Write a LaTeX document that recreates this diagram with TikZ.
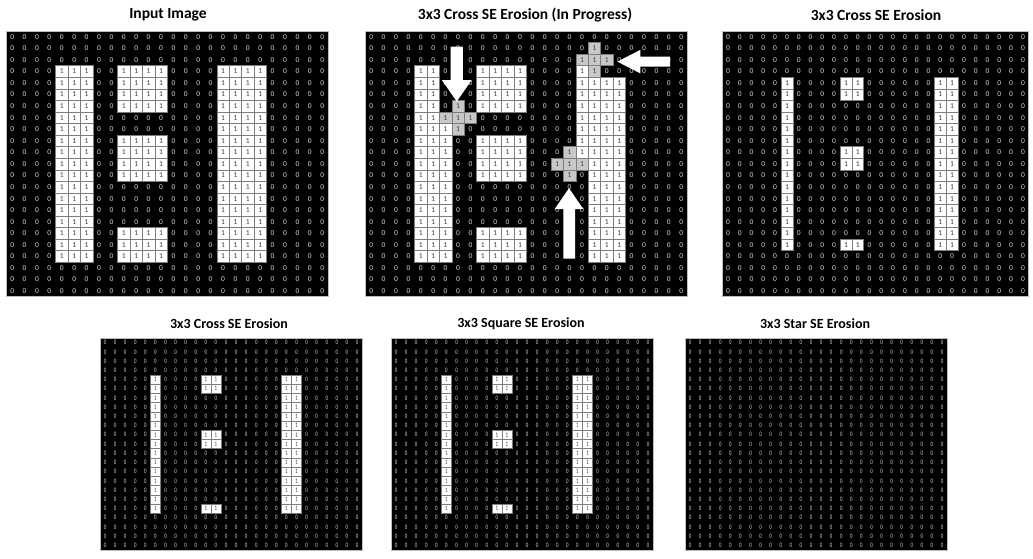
\documentclass[tikz,border=0pt]{standalone}
\usepackage{fontspec}
\setmainfont{Carlito}
\newfontfamily\cellfont{Carlito}
\newfontfamily\narrowfont[FakeStretch=0.72]{Carlito}
\definecolor{zerotxt}{RGB}{215,215,215}
\definecolor{onetxt}{RGB}{60,60,60}
\definecolor{segray}{RGB}{200,200,200}
\definecolor{cellln}{RGB}{125,125,125}
\definecolor{frameln}{RGB}{190,190,190}
\tikzset{zero/.style={inner sep=0pt, outer sep=0pt, text=zerotxt, font=\gf\fontsize{\fs}{\fs}\selectfont}}
\tikzset{one/.style={inner sep=0pt, outer sep=0pt, fill=white, draw=cellln, line width=0.4pt, minimum width=\cw pt, minimum height=\ch pt, text=onetxt, font=\gf\fontsize{\fs}{\fs}\selectfont}}
\tikzset{secell/.style={one, fill=segray}}
\tikzset{frame/.style={draw=frameln, line width=0.8pt}}
\tikzset{ttl/.style={font=\fontsize{15.5}{15.5}\selectfont\bfseries}}
\tikzset{sttl/.style={font=\fontsize{14}{14}\selectfont\bfseries}}
\begin{document}
\begin{tikzpicture}[x=1pt,y=-1pt]
\useasboundingbox[fill=white] (0,0) rectangle (1033,559);
\node[ttl] (t-in) at (168,15) {Input Image};
\node[ttl] (t-pr) at (525,15) {3x3 Cross SE Erosion (In Progress)};
\node[ttl] (t-cr) at (876,15) {3x3 Cross SE Erosion};
\node[sttl] (t-cb) at (229,324) {3x3 Cross SE Erosion};
\node[sttl] (t-sq) at (521,324) {3x3 Square SE Erosion};
\node[sttl] (t-st) at (815,324) {3x3 Star SE Erosion};
\foreach \p/\px/\py/\cw/\ch/\fs/\gf in {in/6/31/12.4/11.56/7.5/\cellfont,pr/365/31/12.4/11.56/7.5/\cellfont,cr/722/31/11.8/11.56/7.5/\cellfont,cb/100/338/10.08/9.22/6.8/\narrowfont,sq/391/338/10.08/9.22/6.8/\narrowfont,st/685/338/10.08/9.22/6.8/\narrowfont}{
\begin{scope}[shift={(\px pt,-\py pt)},x=\cw pt,y=-\ch pt]
\fill (0,0) rectangle (26,23);
\foreach \c in {0,...,25}
\foreach \r in {0,...,22}
{\node[zero] (\p-\c-\r) at (\c+.5,\r+.5) {0};}
\draw[frame] (0,0) rectangle (26,23);
\end{scope}
}
\begin{scope}[shift={(6pt,-31pt)},x=12.4pt,y=-11.56pt]
\def\cw{12.4}\def\ch{11.56}\def\fs{7.5}\def\gf{\cellfont}
\foreach \ca/\cb/\ra/\rb in {4/6/3/19,9/12/3/6,9/12/9/12,9/12/17/19,17/20/3/19}
\foreach \c in {\ca,...,\cb}
\foreach \r in {\ra,...,\rb}
{\node[one] (in-\c-\r) at (\c+.5,\r+.5) {1};}
\end{scope}
\begin{scope}[shift={(365pt,-31pt)},x=12.4pt,y=-11.56pt]
\def\cw{12.4}\def\ch{11.56}\def\fs{7.5}\def\gf{\cellfont}
\foreach \ca/\cb/\ra/\rb in {4/5/3/19,6/6/8/19,9/12/3/6,9/12/9/12,9/12/17/19,17/17/3/10,18/20/4/19}
\foreach \c in {\ca,...,\cb}
\foreach \r in {\ra,...,\rb}
{\node[one] (pr-\c-\r) at (\c+.5,\r+.5) {1};}
\foreach \c/\r in {7/6,6/7,7/7,8/7,7/8,18/1,17/2,18/2,19/2,18/3,16/10,15/11,16/11,17/11,16/12}
{\node[secell] (pr-\c-\r) at (\c+.5,\r+.5) {1};}
\fill[white] (6.9,1.36) -- (7.9,1.36) -- (7.9,4.24) -- (8.6,4.24) -- (7.4,6.1) -- (6.2,4.24) -- (6.9,4.24) -- cycle;
\fill[white] (24.6,2.22) -- (24.6,3.09) -- (22.2,3.09) -- (22.2,3.66) -- (20.35,2.65) -- (22.2,1.64) -- (22.2,2.22) -- cycle;
\fill[white] (16,19.7) -- (16.95,19.7) -- (16.95,15.4) -- (17.6,15.4) -- (16.45,13.6) -- (15.3,15.4) -- (16,15.4) -- cycle;
\end{scope}
\foreach \p/\px/\py/\cw/\ch/\fs/\gf in {cr/722/31/11.8/11.56/7.5/\cellfont,cb/100/338/10.08/9.22/6.8/\narrowfont,sq/391/338/10.08/9.22/6.8/\narrowfont}{
\begin{scope}[shift={(\px pt,-\py pt)},x=\cw pt,y=-\ch pt]
\foreach \ca/\cb/\ra/\rb in {5/5/4/18,10/11/4/5,10/11/10/11,10/11/18/18,18/19/4/18}
\foreach \c in {\ca,...,\cb}
\foreach \r in {\ra,...,\rb}
{\node[one] (\p-\c-\r) at (\c+.5,\r+.5) {1};}
\end{scope}
}
\end{tikzpicture}
\end{document}
